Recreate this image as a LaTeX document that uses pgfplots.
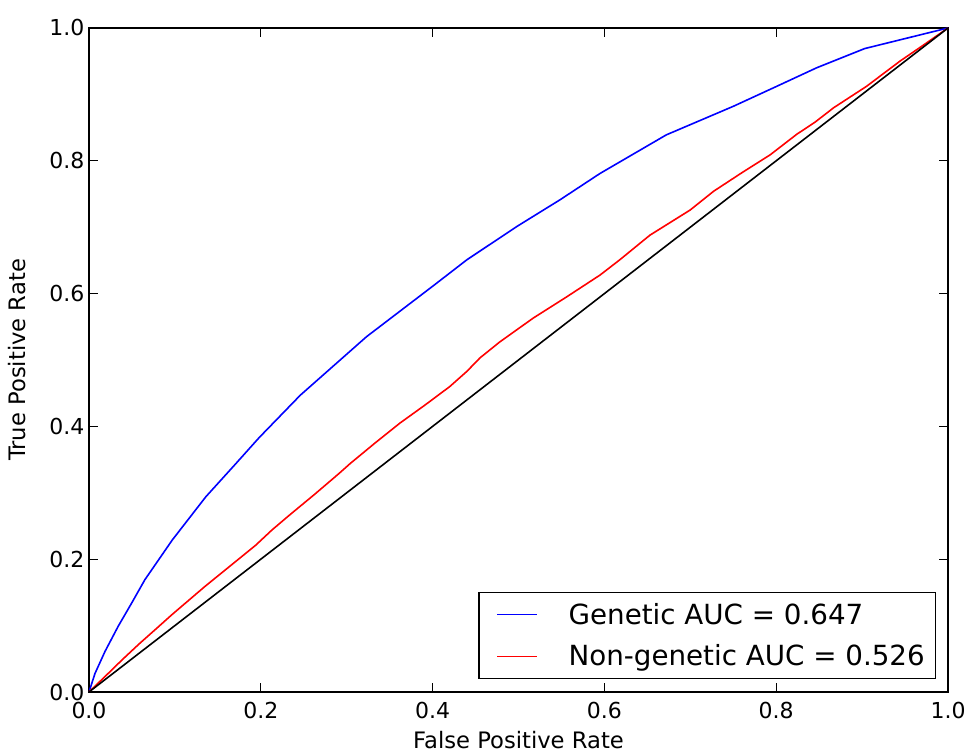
\documentclass[border=0pt]{standalone}
\usepackage{fontspec}
\setmainfont{DejaVu Sans}
\usepackage{pgfplots}
\pgfplotsset{compat=1.18}
\begin{document}
\begin{tikzpicture}
\begin{axis}[
  name=ax,
  scale only axis,
  width=644.25pt, height=498pt,
  xmin=0, xmax=1, ymin=0, ymax=1,
  xtick={0,0.2,0.4,0.6,0.8,1.0},
  ytick={0,0.2,0.4,0.6,0.8,1.0},
  xticklabels={0.0,0.2,0.4,0.6,0.8,1.0},
  yticklabels={0.0,0.2,0.4,0.6,0.8,1.0},
  tick align=inside,
  major tick length=6.5pt,
  tick style={black, line width=0.6pt},
  axis line style={black, line width=1pt},
  ticklabel style={font=\fontsize{16.5}{19}\selectfont},
  xticklabel style={yshift=-4pt},
  label style={font=\fontsize{17}{20}\selectfont},
  xlabel={False Positive Rate},
  ylabel={True Positive Rate},
  xlabel style={at={(axis description cs:0.5,-0.0858)}, anchor=base},
  ylabel style={at={(axis description cs:-0.0737,0.5)}, anchor=base},
  legend cell align=left,
  legend style={
    at={(0.986,0.0196)}, anchor=south east,
    draw=black, line width=0.8pt,
    font=\fontsize{20.8}{24}\selectfont,
    row sep=10pt, inner xsep=6pt, inner ysep=6pt,
  },
  legend image code/.code={
    \draw[#1, line width=1.1pt] (0pt,0pt) -- (30pt,0pt);
    \path (-7pt,0pt) (51pt,0pt);
  },
]
\addplot[blue, line width=1.2pt] coordinates {
(0,0) (0.007,0.028) (0.0186,0.061) (0.034,0.099) (0.0497,0.134)
(0.065,0.169) (0.081,0.199) (0.097,0.229) (0.136,0.294) (0.171,0.344)
(0.198,0.383) (0.246,0.447) (0.323,0.535) (0.401,0.612) (0.440,0.651)
(0.498,0.701) (0.548,0.741) (0.595,0.781) (0.672,0.839) (0.750,0.882)
(0.797,0.910) (0.847,0.940) (0.903,0.969) (1,1)
};
\addlegendentry{Genetic AUC = 0.647}
\addplot[red, line width=1.2pt] coordinates {
(0,0) (0.020,0.025) (0.039,0.049) (0.058,0.072) (0.078,0.095)
(0.097,0.117) (0.116,0.138) (0.135,0.159) (0.155,0.180) (0.175,0.201)
(0.194,0.221) (0.213,0.244) (0.233,0.266) (0.262,0.297) (0.291,0.329)
(0.304,0.344) (0.333,0.375) (0.362,0.405) (0.391,0.432) (0.420,0.460)
(0.440,0.483) (0.455,0.503) (0.478,0.527) (0.517,0.563) (0.556,0.595)
(0.595,0.628) (0.618,0.651) (0.653,0.688) (0.700,0.726)
(0.727,0.754) (0.760,0.782) (0.793,0.809) (0.824,0.840) (0.845,0.858)
(0.867,0.880) (0.905,0.912) (0.944,0.950) (0.970,0.973) (1,1)
};
\addlegendentry{Non-genetic AUC = 0.526}
\addplot[black, line width=1.2pt, forget plot] coordinates {(0,0) (1,1)};
\end{axis}
\pgfresetboundingbox
\useasboundingbox ([xshift=-66.75pt,yshift=-47.25pt]ax.south west) rectangle ([xshift=15.75pt,yshift=21pt]ax.north east);
\end{tikzpicture}
\end{document}
